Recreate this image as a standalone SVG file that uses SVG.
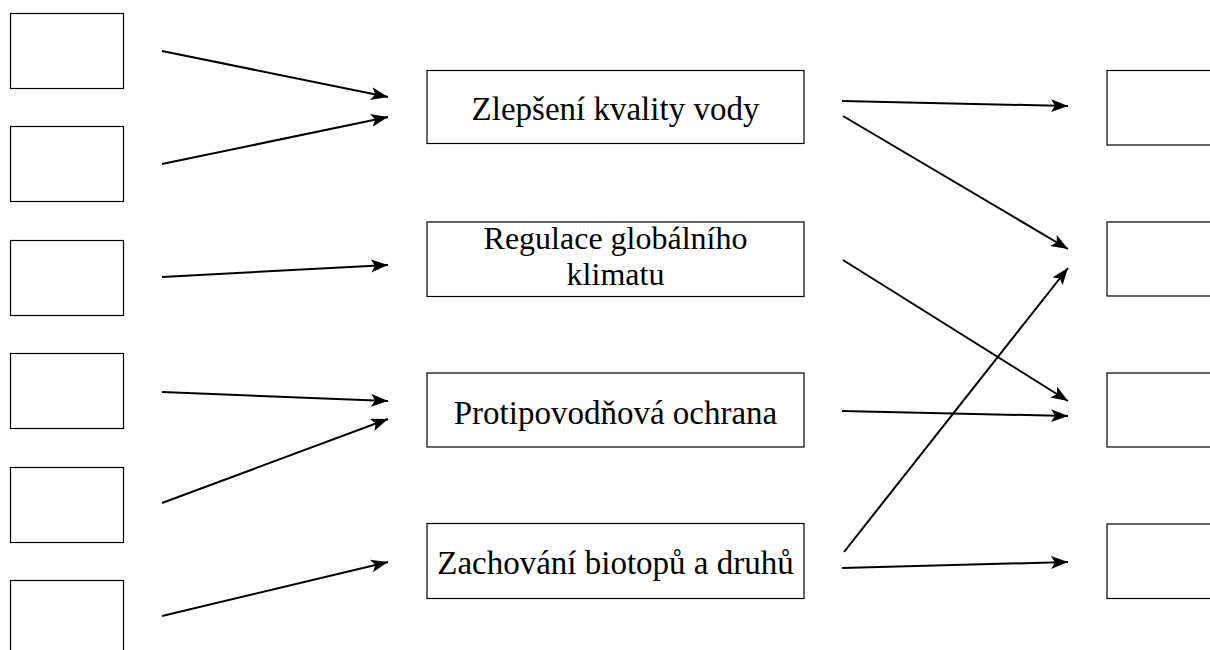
<svg xmlns="http://www.w3.org/2000/svg" width="1210" height="650" viewBox="0 0 1210 650">
<style>
.box{fill:#fff;stroke:#000;stroke-width:1.2}
.lbl{font-family:"Liberation Serif","DejaVu Serif",serif;font-size:33px;fill:#000;text-anchor:middle}
.lbl2{font-size:32px}
.con{fill:none;stroke:#000;stroke-width:2;marker-end:url(#ah)}
</style>
<defs>
<marker id="ah" markerUnits="userSpaceOnUse" markerWidth="20" markerHeight="16" refX="17" refY="6.5" orient="auto">
<path d="M0,0 L17,6.5 L0,13 L4,6.5 z" fill="#000"/>
</marker>
</defs>
<rect width="1210" height="650" fill="#fff"/>
<g id="L1"><rect class="box" x="10.5" y="13.5" width="113" height="75"/></g>
<g id="L2"><rect class="box" x="10.5" y="126.5" width="113" height="75"/></g>
<g id="L3"><rect class="box" x="10.5" y="240.5" width="113" height="75"/></g>
<g id="L4"><rect class="box" x="10.5" y="353.5" width="113" height="75"/></g>
<g id="L5"><rect class="box" x="10.5" y="467.5" width="113" height="75"/></g>
<g id="L6"><rect class="box" x="10.5" y="580.5" width="113" height="75"/></g>
<g id="M1"><rect class="box" x="427" y="70.5" width="377" height="73"/><text class="lbl" x="615.5" y="120">Zlepšení kvality vody</text></g>
<g id="M2"><rect class="box" x="427" y="222" width="377" height="74.5"/><text class="lbl lbl2" x="615.5" y="249">Regulace globálního</text><text class="lbl lbl2" x="615.5" y="285">klimatu</text></g>
<g id="M3"><rect class="box" x="427" y="373" width="377" height="74"/><text class="lbl" x="615.5" y="423.5">Protipovodňová ochrana</text></g>
<g id="M4"><rect class="box" x="427" y="523.5" width="377" height="75"/><text class="lbl" x="615.5" y="573.5">Zachování biotopů a druhů</text></g>
<g id="R1"><rect class="box" x="1107" y="70.5" width="113" height="74.5"/></g>
<g id="R2"><rect class="box" x="1107" y="222" width="113" height="74"/></g>
<g id="R3"><rect class="box" x="1107" y="373" width="113" height="74"/></g>
<g id="R4"><rect class="box" x="1107" y="524" width="113" height="74.5"/></g>
<g id="connectors">
<line class="con" x1="162" y1="51" x2="388" y2="97"/>
<line class="con" x1="162" y1="164" x2="388" y2="117"/>
<line class="con" x1="162" y1="277" x2="388" y2="265"/>
<line class="con" x1="162" y1="392" x2="388" y2="401"/>
<line class="con" x1="162" y1="503" x2="388" y2="419"/>
<line class="con" x1="162" y1="616" x2="388" y2="562"/>
<line class="con" x1="842" y1="101" x2="1068" y2="106"/>
<line class="con" x1="843" y1="116" x2="1068" y2="249"/>
<line class="con" x1="843" y1="260" x2="1068" y2="401"/>
<line class="con" x1="842" y1="411" x2="1068" y2="416"/>
<line class="con" x1="844" y1="552" x2="1068" y2="268"/>
<line class="con" x1="842" y1="568" x2="1068" y2="562"/>
</g>
</svg>
